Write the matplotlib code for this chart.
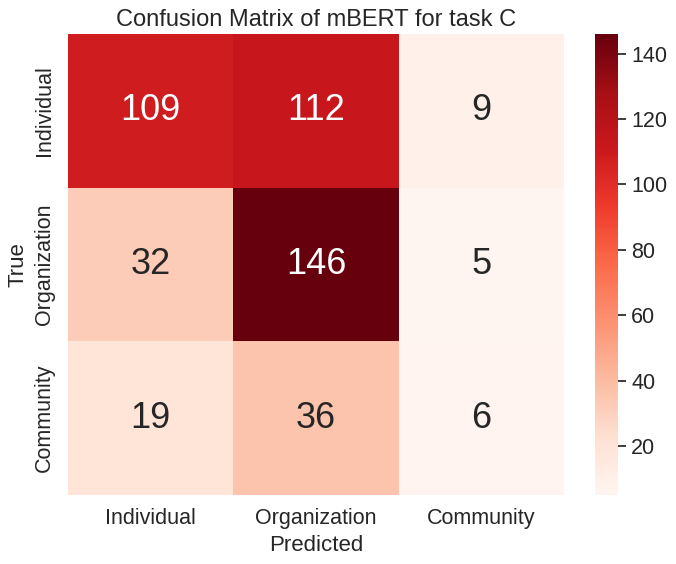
import matplotlib
matplotlib.use("Agg")
import matplotlib.pyplot as plt
import seaborn as sns
import numpy as np

labels = ["Individual", "Organization", "Community"]
row_individual = [109, 112, 9]
row_organization = [32, 146, 5]
row_community = [19, 36, 6]

cm = np.array([row_individual, row_organization, row_community])

sns.set_theme(style="white", font_scale=1.4)
plt.rcParams['font.family'] = ['Liberation Sans', 'DejaVu Sans']

fig = plt.figure(figsize=(6.76, 5.64), dpi=100)
ax = fig.add_axes([68/676, 1 - 495/564, (564-68)/676, (495-34)/564])
cax = fig.add_axes([595/676, 1 - 495/564, (618-595)/676, (495-34)/564])
sns.heatmap(cm, annot=True, fmt="d", cmap="Reds", ax=ax, cbar_ax=cax,
            xticklabels=labels, yticklabels=labels,
            annot_kws={"size": 26})
ax.set_title("Confusion Matrix of mBERT for task C", fontsize=17)
ax.set_xlabel("Predicted", fontsize=16)
ax.set_ylabel("True", fontsize=16)
ax.tick_params(labelsize=15.5)
cax.tick_params(labelsize=15.5)
fig.savefig("out.png", dpi=100)
